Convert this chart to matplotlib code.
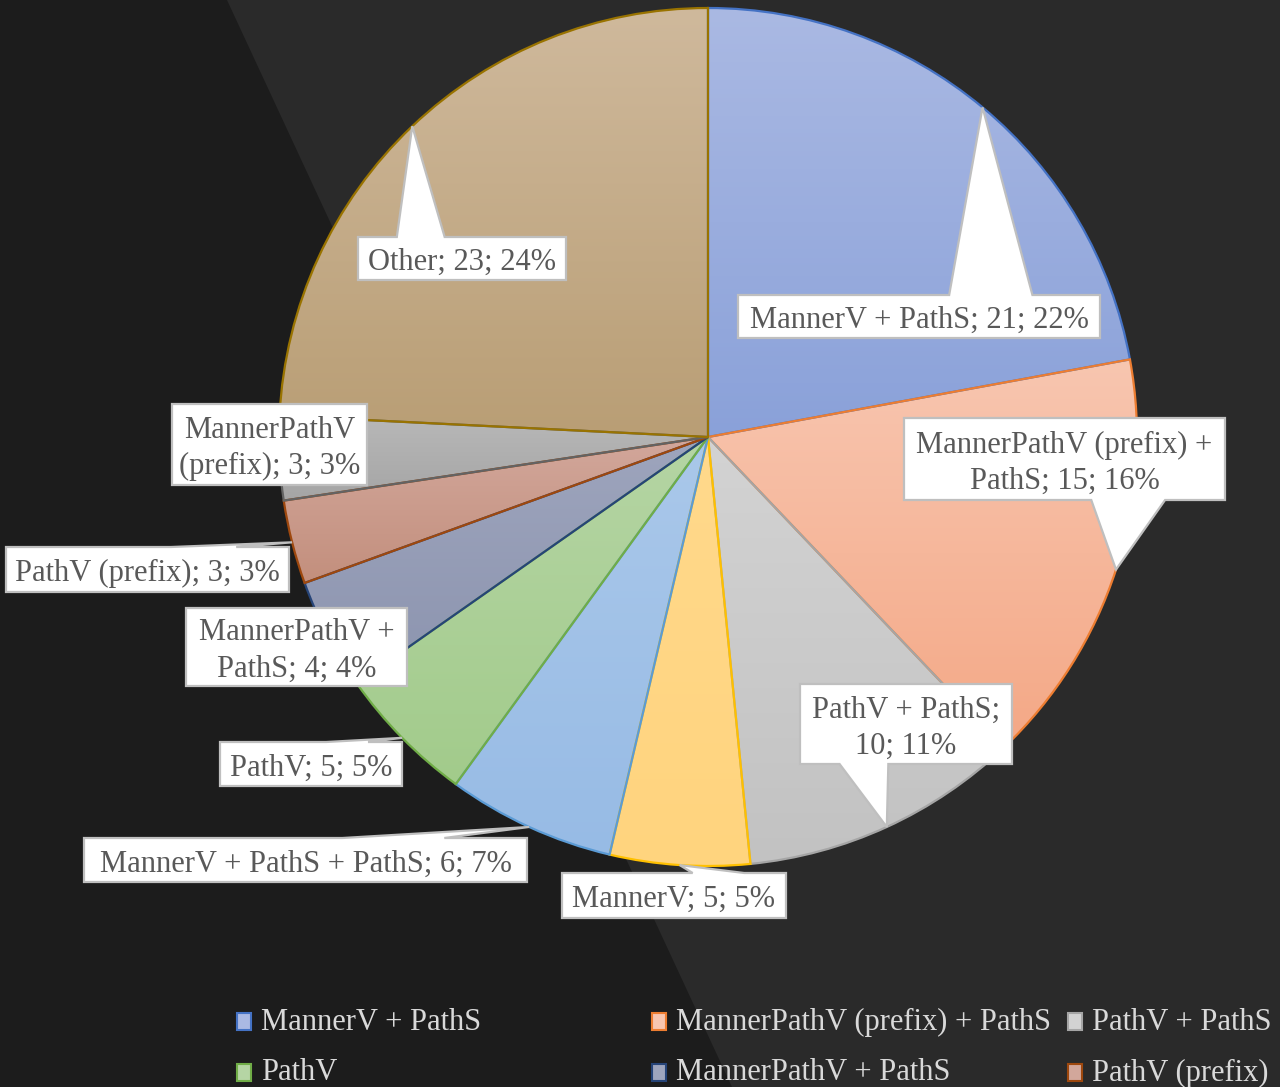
import textwrap
import numpy as np
import matplotlib
matplotlib.use('Agg')
import matplotlib.pyplot as plt
from matplotlib.patches import Polygon, Rectangle
from matplotlib.colors import to_rgb

# data
categories = ['MannerV + PathS', 'MannerPathV (prefix) + PathS', 'PathV + PathS', 'MannerV',
              'MannerV + PathS + PathS', 'PathV', 'MannerPathV + PathS', 'PathV (prefix)',
              'MannerPathV (prefix)', 'Other']
values = [21, 15, 10, 5, 6, 5, 4, 3, 3, 23]
percents = [22, 16, 11, 5, 7, 5, 4, 3, 3, 24]

# styles: light (top) / dark (bottom) fill and border colour of each slice
fill_top = ['#aab9e3', '#f8c6b0', '#d3d3d3', '#ffd98c', '#aac8ea',
            '#b5d5a4', '#9ea5bd', '#d2a79b', '#b8b8b8', '#cfb99c']
fill_bot = ['#8aa1d9', '#f4a886', '#c2c2c2', '#ffd47e', '#97bbe5',
            '#a2cb8b', '#8c94af', '#c38f7d', '#a5a5a5', '#b99e75']
edges = ['#4472C4', '#ED7D31', '#A5A5A5', '#FFC000', '#5B9BD5',
         '#70AD47', '#264478', '#9E480E', '#636363', '#997300']

# layout (pixels, y from top): label boxes and wrap width
boxes = [(738, 295, 1100, 338), (904, 418, 1225, 500), (800, 684, 1012, 764),
         (562, 873, 786, 918), (84, 838, 527, 882), (220, 742, 402, 786),
         (186, 608, 407, 686), (6, 547, 289, 592), (172, 404, 367, 485),
         (358, 237, 566, 280)]
wraps = [40, 22, 14, 40, 40, 40, 13, 40, 15, 40]
legend_items = [(0, 237, 1021), (1, 652, 1021), (2, 1068, 1021),
                (5, 237, 1072), (6, 652, 1072), (7, 1068, 1072)]

W, H = 1280, 1087
CX, CY, R = 708, 437, 429
FONT = ['Liberation Serif', 'DejaVu Serif']


def flip(pts):
    return [(x, H - y) for x, y in pts]


def callout(box, tip):
    # rectangle callout, wedge base set the way office does it (7/12 or 5/12 of the side)
    x0, y0, x1, y1 = box
    tx, ty = tip
    if x0 <= tx <= x1 and y0 <= ty <= y1:
        return [(x0, y0), (x1, y0), (x1, y1), (x0, y1)]
    w, h = x1 - x0, y1 - y0
    if ty < y0 or ty > y1:
        bw = 0.23 * w
        if tx > (x0 + x1) / 2:
            a = x0 + 7 * w / 12
        else:
            a = x0 + 5 * w / 12 - bw
        if ty < y0:
            return [(x0, y0), (a, y0), (tx, ty), (a + bw, y0), (x1, y0), (x1, y1), (x0, y1)]
        return [(x0, y0), (x1, y0), (x1, y1), (a + bw, y1), (tx, ty), (a, y1), (x0, y1)]
    bh = 0.23 * h
    if ty > (y0 + y1) / 2:
        a = y0 + 7 * h / 12
    else:
        a = y0 + 5 * h / 12 - bh
    if tx > x1:
        return [(x0, y0), (x1, y0), (x1, a), (tx, ty), (x1, a + bh), (x1, y1), (x0, y1)]
    return [(x0, y0), (x1, y0), (x1, y1), (x0, y1), (x0, a + bh), (tx, ty), (x0, a)]


fig = plt.figure(figsize=(12.8, 10.87), dpi=100, facecolor='#1c1c1c')
ax = fig.add_axes([0, 0, 1, 1])
ax.set_facecolor('#1c1c1c')

# lighter diagonal band
ax.add_patch(Polygon(flip([(227, 0), (W, 0), (W, H), (732, H)]), closed=True,
                     facecolor='#2a2a2a', edgecolor='none', zorder=0))

wedges, _ = ax.pie(values, startangle=90, counterclock=False, center=(CX, H - CY), radius=R,
                   wedgeprops=dict(linewidth=1.6))

for i, w in enumerate(wedges):
    ext = w.get_path().get_extents()
    grad = np.linspace(to_rgb(fill_top[i]), to_rgb(fill_bot[i]), 256).reshape(256, 1, 3)
    ax.imshow(grad, extent=(ext.x0, ext.x1, ext.y0, ext.y1), origin='upper', aspect='auto',
              interpolation='bilinear', clip_path=w, zorder=1)
    w.set_facecolor('none')
    w.set_edgecolor(edges[i])
    w.set_zorder(2)

# data labels with callouts
for i, w in enumerate(wedges):
    mid = np.radians((w.theta1 + w.theta2) / 2)
    tip = (CX + R * np.cos(mid), CY - R * np.sin(mid))
    pts = callout(boxes[i], tip)
    ax.add_patch(Polygon(flip(pts), closed=True, facecolor='white', edgecolor='#bfbfbf',
                         linewidth=1.6, joinstyle='miter', zorder=3))
    x0, y0, x1, y1 = boxes[i]
    txt = textwrap.fill(f'{categories[i]}; {values[i]}; {percents[i]}%', wraps[i])
    ax.text((x0 + x1) / 2, H - (y0 + y1) / 2 - 4, txt, ha='center', va='center', fontsize=22,
            color='#595959', family=FONT, linespacing=1.32, multialignment='center', zorder=4)

# legend (partly cut off in the original)
for i, lx, ly in legend_items:
    ax.add_patch(Rectangle((lx, H - ly - 9), 14, 17, facecolor=fill_top[i], edgecolor=edges[i],
                           linewidth=1.5, zorder=3))
    ax.text(lx + 24, H - ly - 1, categories[i], ha='left', va='center', fontsize=22,
            color='#d9d9d9', family=FONT, zorder=3)

ax.set_xlim(0, W)
ax.set_ylim(0, H)
ax.set_aspect('equal')
ax.set_axis_off()

fig.savefig('out.png', dpi=100, facecolor=fig.get_facecolor())
